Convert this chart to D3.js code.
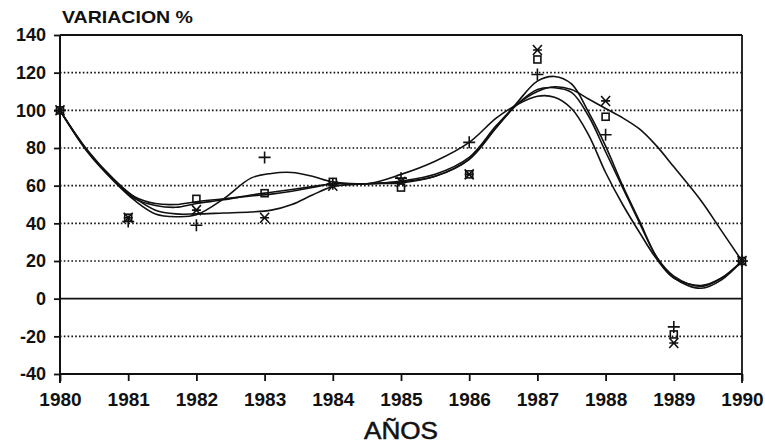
<!DOCTYPE html>
<html><head><meta charset="utf-8">
<script src="https://cdn.jsdelivr.net/npm/d3@7"></script>
<style>body{margin:0;background:#fff}svg{display:block}</style>
</head><body><svg id="c" width="765" height="445"></svg>
<script>
// ---- data ----
const years = [1980,1981,1982,1983,1984,1985,1986,1987,1988,1989,1990];
const plusVals   = [100, 41, 39, 75, 61, 64, 83, 119, 87, -15, 20];
const squareVals = [100, 43, 53, 56, 62, 59, 66, 127, 96.6, -19, 20];
const starVals   = [100, 43, 47, 43, 60, 62, 66, 132, 105, -23.5, 20];

const curveYears = [1980,1980.4,1980.8,1981.1,1981.4,1981.7,1982,1982.4,1982.8,1983.1,1983.4,1983.7,1984,1984.5,1985,1985.5,1986,1986.4,1986.7,1987,1987.25,1987.5,1987.75,1988,1988.25,1988.5,1988.75,1989,1989.4,1989.7,1990];
const curveP = [100,78,62,52,45,43.5,44.5,53,64,66.5,67,65,62,61,66,73,83,96,103,107.5,107,101,87,67,50,35,21,11,7,11,20];
const curveS = [100,78.5,62.5,53,49.5,48.5,50.5,52.5,55,56.5,58,59.5,61,61,62,65,74,91,103,111,112,109.5,97,78,59,40,22,12,6.5,11,20];
const curveX = [100,78.5,63,53.5,47,45,45,45.5,46,47,50,55,59.5,61,61.5,65,74,91,104,115.5,118,114,99,81,60,41,22,11,5.5,10,20];
const curveO = [100,79,63,54,50.5,50,51.5,53,54.5,55.5,57,59,61,61,62.5,66,75,92,103,110,112.5,111,106,101,96,90,81,70,52,36,20];

const yTicks = [140,120,100,80,60,40,20,0,-20,-40];
const gridVals = [120,100,80,60,40,20,-20];

// ---- chart ----
const svg = d3.select('#c');
const x = d3.scaleLinear().domain([1980,1990]).range([60,742]);
const y = d3.scaleLinear().domain([-40,140]).range([374,35]);
const font = "'Liberation Sans', Arial, sans-serif";

// grid
svg.append('g').selectAll('line').data(gridVals).join('line')
  .attr('x1', x(1980)).attr('x2', x(1990))
  .attr('y1', d=>y(d)).attr('y2', d=>y(d))
  .attr('stroke','#111').attr('stroke-width',1.6).attr('stroke-dasharray','1.6 2.2');

// zero line, top frame, right frame
svg.append('line').attr('x1',x(1980)).attr('x2',x(1990)).attr('y1',y(0)).attr('y2',y(0))
  .attr('stroke','#111').attr('stroke-width',1.8);
svg.append('line').attr('x1',x(1980)).attr('x2',x(1990)).attr('y1',y(140)).attr('y2',y(140))
  .attr('stroke','#111').attr('stroke-width',1.8);
svg.append('line').attr('x1',x(1990)).attr('x2',x(1990)).attr('y1',y(140)).attr('y2',y(-40)+9)
  .attr('stroke','#111').attr('stroke-width',1.8);

// y axis
const yAxis = d3.axisLeft(y).tickValues(yTicks).tickSize(6).tickPadding(8).tickFormat(d=>String(d));
const gy = svg.append('g').attr('transform',`translate(${x(1980)},0)`).call(yAxis);
gy.select('.domain').attr('stroke','#111').attr('stroke-width',2).attr('d',`M0,${y(140)}V${y(-40)+9}`);
gy.selectAll('.tick line').attr('stroke','#111').attr('stroke-width',1.8);
gy.selectAll('.tick text').attr('font-family',font).attr('font-weight','bold').attr('font-size',18).attr('fill','#111');

// x axis
const xAxis = d3.axisBottom(x).tickValues(years).tickSize(7).tickPadding(12).tickFormat(d3.format('d'));
const gx = svg.append('g').attr('transform',`translate(0,${y(-40)})`).call(xAxis);
gx.select('.domain').attr('stroke','#111').attr('stroke-width',2).attr('d',`M${x(1980)},0H${x(1990)}`);
gx.selectAll('.tick line').attr('stroke','#111').attr('stroke-width',1.8);
gx.selectAll('.tick text').attr('font-family',font).attr('font-weight','bold').attr('font-size',19).attr('fill','#111');

// titles
svg.append('text').attr('x',62).attr('y',23).text('VARIACION %')
  .attr('font-family',font).attr('font-weight','bold').attr('font-size',17).attr('fill','#111')
  .attr('textLength',131).attr('lengthAdjust','spacingAndGlyphs');
svg.append('text').attr('x',x(1985)).attr('y',439).attr('text-anchor','middle').text('AÑOS')
  .attr('font-family',font).attr('font-size',23).attr('fill','#111')
  .attr('stroke','#111').attr('stroke-width',0.5)
  .attr('textLength',74).attr('lengthAdjust','spacingAndGlyphs');

// curves
const line = d3.line().x(d=>x(d[0])).y(d=>y(d[1])).curve(d3.curveCatmullRom.alpha(0.5));
[curveP, curveS, curveX, curveO].forEach(vals=>{
  svg.append('path').attr('d', line(curveYears.map((yr,i)=>[yr, vals[i]])))
    .attr('fill','none').attr('stroke','#111').attr('stroke-width',1.6);
});

// markers
const mk = svg.append('g').attr('fill','none').attr('stroke','#111').attr('stroke-width',1.6);
years.forEach((yr,i)=>{
  const px=x(yr), py=y(plusVals[i]);
  mk.append('path').attr('d',`M${px-6},${py}H${px+6}M${px},${py-6}V${py+6}`);
});
years.forEach((yr,i)=>{
  const px=x(yr), py=y(squareVals[i]);
  mk.append('rect').attr('x',px-3.5).attr('y',py-3.5).attr('width',7).attr('height',7);
});
years.forEach((yr,i)=>{
  const px=x(yr), py=y(starVals[i]);
  mk.append('path').attr('d',`M${px-4.5},${py-5}L${px+4.5},${py+5}M${px+4.5},${py-5}L${px-4.5},${py+5}M${px-4.5},${py}H${px+4.5}`);
});
</script></body></html>
